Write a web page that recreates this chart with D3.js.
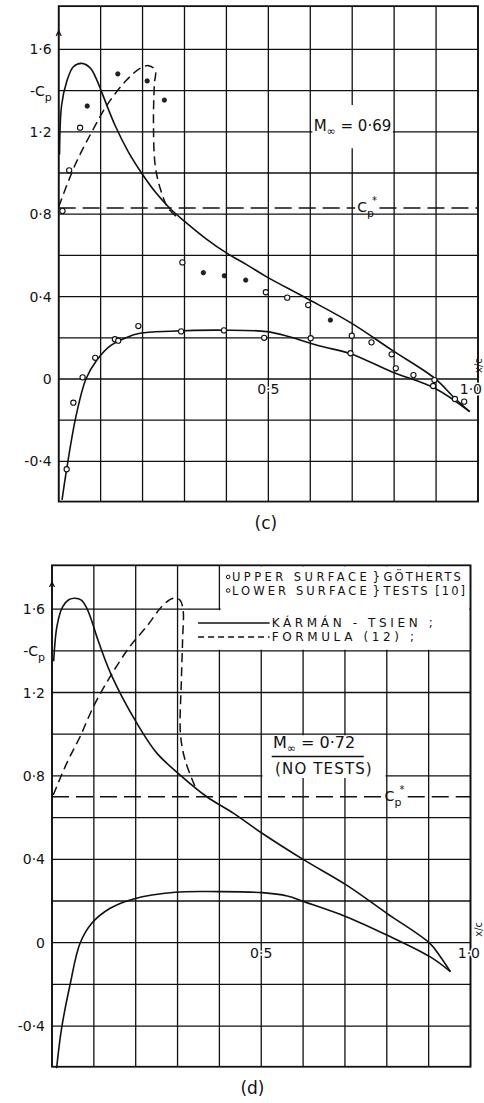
<!DOCTYPE html>
<html>
<head>
<meta charset="utf-8">
<script src="https://cdn.jsdelivr.net/npm/d3@7"></script>
<style>
  body { margin: 0; background: #fff; }
  svg { display: block; }
  text { font-family: "DejaVu Sans", sans-serif; fill: #111; }
</style>
</head>
<body>
<div id="chart"></div>
<script>
// grid / tick values (same for both panels)
const xGrid = [0, 0.1, 0.2, 0.3, 0.4, 0.5, 0.6, 0.7, 0.8, 0.9, 1.0]
const yGrid = [-0.4, -0.2, 0, 0.2, 0.4, 0.6, 0.8, 1.0, 1.2, 1.4, 1.6]
const yLabelValues = [1.6, 1.4, 1.2, 0.8, 0.4, 0, -0.4]
const yLabelText = ["1·6", "-C", "1·2", "0·8", "0·4", "0", "-0·4"]
const xLabelValues = [0.5, 1.0]
const xLabelText = ["0·5", "1·0"]

// panel (c) : M = 0.69
const machC = "0·69"
const cpStarC = 0.83
const karmanUpperC = [[0.002,1.09],[0.007,1.33],[0.019,1.443],[0.035,1.516],[0.055,1.532],[0.075,1.51],[0.091,1.451],[0.103,1.39],[0.134,1.233],[0.166,1.103],[0.198,0.999],[0.23,0.909],[0.265,0.829],[0.301,0.764],[0.35,0.683],[0.4,0.612],[0.45,0.553],[0.495,0.497],[0.591,0.392],[0.699,0.27],[0.794,0.141],[0.897,0.003],[0.941,-0.086],[0.98,-0.158]]
const karmanLowerC = [[0.008,-0.587],[0.019,-0.438],[0.041,-0.183],[0.065,0.0],[0.091,0.092],[0.122,0.16],[0.162,0.202],[0.194,0.222],[0.266,0.232],[0.393,0.237],[0.496,0.23],[0.55,0.205],[0.623,0.16],[0.696,0.123],[0.794,0.035],[0.897,-0.045],[0.98,-0.158]]
const formulaC = [[0,0.836],[0.039,1.039],[0.079,1.2],[0.118,1.338],[0.162,1.451],[0.194,1.508],[0.214,1.521],[0.23,1.5],[0.228,1.427],[0.226,1.249],[0.23,1.039],[0.242,0.926],[0.261,0.829],[0.28,0.79]]
const upperFilledC = [[0.068,1.325],[0.141,1.481],[0.211,1.447],[0.252,1.354],[0.345,0.516],[0.395,0.501],[0.446,0.48],[0.648,0.286]]
const upperOpenC = [[0.009,0.816],[0.025,1.013],[0.051,1.22],[0.295,0.566],[0.494,0.421],[0.545,0.395],[0.595,0.359],[0.699,0.21],[0.746,0.178],[0.794,0.12],[0.804,0.052],[0.846,0.019],[0.896,-0.005],[0.893,-0.034],[0.945,-0.097],[0.967,-0.11]]
const lowerOpenC = [[0.019,-0.438],[0.035,-0.115],[0.057,0.008],[0.087,0.103],[0.134,0.193],[0.142,0.186],[0.19,0.257],[0.292,0.231],[0.394,0.236],[0.49,0.2],[0.601,0.198],[0.696,0.125]]

// panel (d) : M = 0.72, no tests
const machD = "0·72"
const cpStarD = 0.70
const karmanUpperD = [[0.004,1.35],[0.012,1.52],[0.025,1.61],[0.04,1.645],[0.055,1.652],[0.07,1.643],[0.083,1.605],[0.095,1.543],[0.107,1.468],[0.14,1.292],[0.203,1.052],[0.251,0.908],[0.307,0.803],[0.37,0.70],[0.434,0.62],[0.502,0.525],[0.602,0.397],[0.703,0.277],[0.8,0.141],[0.903,-0.003],[0.928,-0.067],[0.952,-0.139]]
const karmanLowerD = [[0.011,-0.602],[0.023,-0.41],[0.043,-0.203],[0.067,-0.003],[0.095,0.093],[0.139,0.165],[0.195,0.21],[0.294,0.242],[0.398,0.245],[0.502,0.24],[0.562,0.224],[0.602,0.197],[0.703,0.125],[0.8,0.037],[0.903,-0.067],[0.952,-0.139]]
const formulaD = [[0.003,0.708],[0.035,0.86],[0.067,0.988],[0.099,1.132],[0.139,1.276],[0.186,1.42],[0.226,1.516],[0.266,1.62],[0.29,1.652],[0.305,1.645],[0.313,1.6],[0.312,1.45],[0.309,1.25],[0.307,1.0],[0.318,0.876],[0.342,0.748]]

// legend of panel (d)
const legendPointText = ["UPPER SURFACE", "LOWER SURFACE"]
const legendTestText = ["GÖTHERTS", "TESTS [10]"]
const legendLineText = ["KÁRMÁN -  TSIEN ;", "FORMULA   (12) ;"]

const W = 484, H = 1103
const svg = d3.select("#chart").append("svg")
  .attr("width", W).attr("height", H)

// panel layout (pixels), data goes in through the scales
const panels = [
  {left: 58.7, right: 478, zero: 379, unit: 206, caption: "(c)", capX: 0.494,
   upper: karmanUpperC, lower: karmanLowerC, formula: formulaC, cp: cpStarC, cpGap: [0.707, 0.765],
   filled: upperFilledC, open: upperOpenC.concat(lowerOpenC), mach: machC},
  {left: 52, right: 470.5, zero: 942.7, unit: 208.5, caption: "(d)", capX: 0.479,
   upper: karmanUpperD, lower: karmanLowerD, formula: formulaD, cp: cpStarD, cpGap: [0.79, 0.85],
   filled: [], open: [], mach: machD, legend: true}
]

const yMin = -0.595, yMax = 1.81

panels.forEach(p => {
  const x = d3.scaleLinear().domain([0, 1]).range([p.left, p.right])
  const y = d3.scaleLinear().domain([yMin, yMax])
    .range([p.zero - yMin * p.unit, p.zero - yMax * p.unit])
  const g = svg.append("g")

  // grid
  g.selectAll(".vg").data(xGrid).enter().append("line")
    .attr("x1", d => x(d)).attr("x2", d => x(d))
    .attr("y1", y(yMin)).attr("y2", y(yMax))
    .attr("stroke", "#111").attr("stroke-width", 1.3)
  g.selectAll(".hg").data(yGrid).enter().append("line")
    .attr("x1", x(0)).attr("x2", x(1))
    .attr("y1", d => y(d)).attr("y2", d => y(d))
    .attr("stroke", "#111").attr("stroke-width", 1.3)

  // white boxes behind annotations
  const blank = (x0, x1, y0, y1) => g.append("rect")
    .attr("x", x(x0)).attr("y", y(y1))
    .attr("width", x(x1) - x(x0)).attr("height", y(y0) - y(y1))
    .attr("fill", "#fff")

  if (p.legend) {
    blank(0.403, 0.997, 1.405, 1.805)
    blank(0.318, 0.41, 1.405, 1.595)
    blank(0.503, 0.797, 0.79, 0.995)
  } else {
    blank(0.605, 0.797, 1.12, 1.33)
  }

  // frame
  g.append("rect")
    .attr("x", x(0)).attr("y", y(yMax))
    .attr("width", x(1) - x(0)).attr("height", y(yMin) - y(yMax))
    .attr("fill", "none").attr("stroke", "#111").attr("stroke-width", 1.8)

  // small arrow at top of the -Cp axis
  const ay = y(p.legend ? 1.73 : 1.69)
  g.append("path")
    .attr("d", `M${x(0) - 2.5},${ay + 5}L${x(0)},${ay}L${x(0) + 2.5},${ay + 5}`)
    .attr("fill", "none").attr("stroke", "#111").attr("stroke-width", 1.2)

  // Cp* line with a gap for its label
  const cpSegs = [[0, p.cpGap[0]], [p.cpGap[1], 1]]
  g.selectAll(".cp").data(cpSegs).enter().append("line")
    .attr("x1", d => x(d[0])).attr("x2", d => x(d[1]))
    .attr("y1", y(p.cp)).attr("y2", y(p.cp))
    .attr("stroke", "#111").attr("stroke-width", 1.5)
    .attr("stroke-dasharray", "17,7")
  const cpLab = g.append("text")
    .attr("x", x(p.cpGap[0]) + 2).attr("y", y(p.cp) + 4)
    .style("font-size", "14px")
  cpLab.append("tspan").text("C")
  cpLab.append("tspan").attr("dy", 5).style("font-size", "11px").text("p")
  cpLab.append("tspan").attr("dy", -13).attr("dx", -2).style("font-size", "10px").text("*")

  // curves
  const line = d3.line()
    .x(d => x(d[0])).y(d => y(d[1]))
    .curve(d3.curveCatmullRom.alpha(0.5))
  g.append("path").attr("d", line(p.upper))
    .attr("fill", "none").attr("stroke", "#111").attr("stroke-width", 1.6)
  g.append("path").attr("d", line(p.lower))
    .attr("fill", "none").attr("stroke", "#111").attr("stroke-width", 1.6)
  g.append("path").attr("d", line(p.formula))
    .attr("fill", "none").attr("stroke", "#111").attr("stroke-width", 1.5)
    .attr("stroke-dasharray", "9,5")

  // test points
  g.selectAll(".op").data(p.open).enter().append("circle")
    .attr("cx", d => x(d[0])).attr("cy", d => y(d[1])).attr("r", 2.6)
    .attr("fill", "#fff").attr("stroke", "#111").attr("stroke-width", 1.1)
  g.selectAll(".fp").data(p.filled).enter().append("circle")
    .attr("cx", d => x(d[0])).attr("cy", d => y(d[1])).attr("r", 2.2)
    .attr("fill", "#222").attr("stroke", "#111").attr("stroke-width", 0.8)

  // y labels
  g.selectAll(".yl").data(yLabelValues).enter().append("text")
    .attr("x", x(0) - 7).attr("y", d => y(d) + 5)
    .attr("text-anchor", "end").style("font-size", "14px")
    .each(function(d, i) {
      const t = d3.select(this)
      t.append("tspan").text(yLabelText[i])
      if (yLabelText[i] === "-C")
        t.append("tspan").attr("dy", 5).style("font-size", "11px").text("p")
    })

  // x labels ("1·0" kept inside the page edge)
  g.selectAll(".xl").data(xLabelValues).enter().append("text")
    .attr("x", (d, i) => i === 0 ? x(d) : Math.min(x(d) + 9.5, W - 2))
    .attr("y", y(0) + 15)
    .attr("text-anchor", (d, i) => i === 0 ? "middle" : "end")
    .style("font-size", "14px")
    .attr("stroke", "#fff").attr("stroke-width", 3).attr("paint-order", "stroke")
    .text((d, i) => xLabelText[i])
  g.append("text")
    .attr("transform", `translate(${Math.min(x(1) + 11, W - 2)},${y(0) - 6}) rotate(-90)`)
    .style("font-size", "10px").text("x/c")

  // Mach number
  if (p.legend) {
    const m = g.append("text").attr("x", x(0.528)).attr("y", y(0.935))
      .style("font-size", "16px")
    m.append("tspan").text("M")
    m.append("tspan").attr("dy", 4).style("font-size", "11px").text("∞")
    m.append("tspan").attr("dy", -4).text(" = " + p.mach)
    g.append("line")
      .attr("x1", x(0.525)).attr("x2", x(0.745))
      .attr("y1", y(0.893)).attr("y2", y(0.893))
      .attr("stroke", "#111").attr("stroke-width", 1.3)
    g.append("text").attr("x", x(0.533)).attr("y", y(0.81))
      .attr("textLength", x(0.764) - x(0.533)).attr("lengthAdjust", "spacing")
      .style("font-size", "15px").text("(NO TESTS)")
  } else {
    const m = g.append("text").attr("x", x(0.608)).attr("y", y(1.205))
      .style("font-size", "15px")
    m.append("tspan").text("M")
    m.append("tspan").attr("dy", 4).style("font-size", "11px").text("∞")
    m.append("tspan").attr("dy", -4).text(" = " + p.mach)
  }

  // legend
  if (p.legend) {
    const rowsY = [1.735, 1.67]
    g.selectAll(".lc").data(rowsY).enter().append("circle")
      .attr("cx", x(0.421)).attr("cy", d => y(d) - 4).attr("r", 1.8)
      .attr("fill", "#fff").attr("stroke", "#111").attr("stroke-width", 1)
    g.selectAll(".lt").data(rowsY).enter().append("text")
      .attr("x", x(0.43)).attr("y", d => y(d))
      .attr("textLength", x(0.752) - x(0.43)).attr("lengthAdjust", "spacing")
      .style("font-size", "11.5px").text((d, i) => legendPointText[i])
    g.selectAll(".lb").data(rowsY).enter().append("text")
      .attr("x", x(0.766)).attr("y", d => y(d) + 0.5)
      .style("font-size", "12px").text("}")
    g.selectAll(".lg").data(rowsY).enter().append("text")
      .attr("x", x(0.792)).attr("y", d => y(d))
      .attr("textLength", (d, i) => x(i === 0 ? 0.977 : 0.987) - x(0.792))
      .attr("lengthAdjust", "spacing")
      .style("font-size", "11.5px").text((d, i) => legendTestText[i])

    const lineRows = [1.514, 1.447]
    g.selectAll(".ll").data(lineRows).enter().append("line")
      .attr("x1", x(0.349)).attr("x2", x(0.52))
      .attr("y1", d => y(d) - 4).attr("y2", d => y(d) - 4)
      .attr("stroke", "#111").attr("stroke-width", 1.4)
      .attr("stroke-dasharray", (d, i) => i === 0 ? null : "6,4")
    g.selectAll(".lx").data(lineRows).enter().append("text")
      .attr("x", x(0.525)).attr("y", d => y(d))
      .attr("textLength", (d, i) => x(i === 0 ? 0.91 : 0.865) - x(0.525))
      .attr("lengthAdjust", "spacing")
      .style("font-size", "12px").text((d, i) => legendLineText[i])
  }

  // caption
  g.append("text")
    .attr("x", x(p.capX)).attr("y", y(yMin) + 27)
    .attr("text-anchor", "middle").style("font-size", "17px")
    .text(p.caption)
})
</script>
</body>
</html>
